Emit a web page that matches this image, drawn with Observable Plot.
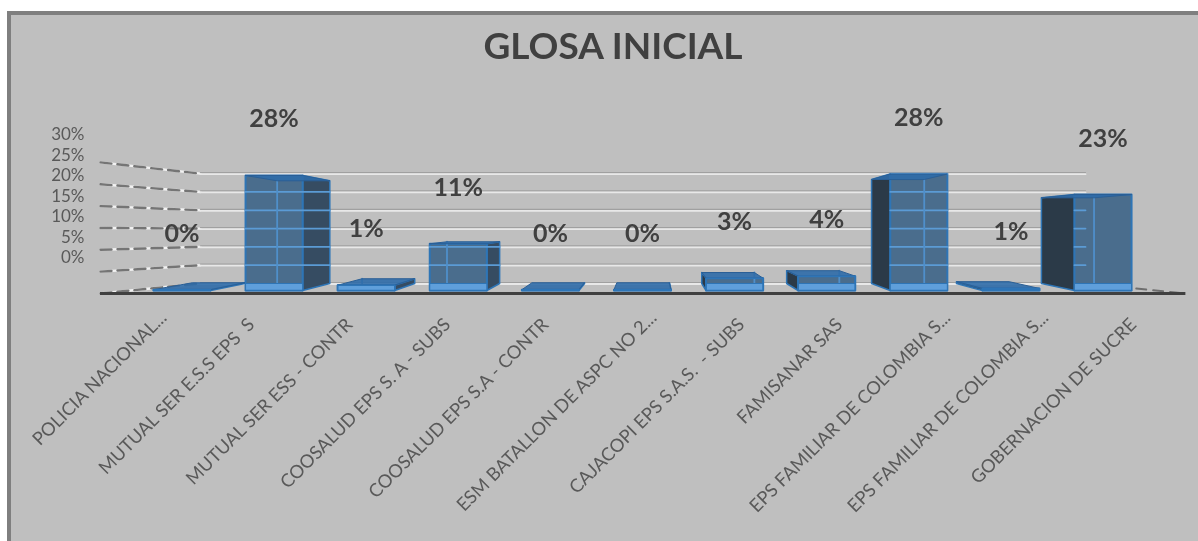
<!DOCTYPE html>
<html>
<head>
<meta charset="utf-8">
<script src="https://cdn.jsdelivr.net/npm/d3@7"></script>
<script src="https://cdn.jsdelivr.net/npm/@observablehq/plot@0.6"></script>
<style>
  html, body { margin: 0; padding: 0; background: #fff; overflow: hidden; }
  #panel { position: absolute; left: 7px; top: 11px; width: 1187px; height: 526px;
           background: #bfbfbf; border-left: 4px solid #7f7f7f; border-top: 4px solid #7f7f7f; }
  #chart { position: absolute; left: 0; top: 0; }
  #chart svg { background: transparent; filter: blur(0.6px); }
</style>
</head>
<body>
<div id="panel"></div>
<div id="chart"></div>
<script>
const title = "GLOSA INICIAL";
const categories = [
  "POLICIA NACIONAL...",
  "MUTUAL SER E.S.S EPS \u00a0S",
  "MUTUAL SER ESS - CONTR",
  "COOSALUD EPS S. A - SUBS",
  "COOSALUD EPS S.A - CONTR",
  "ESM BATALLON DE ASPC NO 2...",
  "CAJACOPI EPS S.A.S. \u00a0- SUBS",
  "FAMISANAR SAS",
  "EPS FAMILIAR DE COLOMBIA S...",
  "EPS FAMILIAR DE COLOMBIA S...",
  "GOBERNACION DE SUCRE"
];
const values = [0.2, 28.05, 1.3, 11.4, 0.2, 0.2, 3, 3.5, 28.4, 0.5, 23.4];
const yTicks = [0, 5, 10, 15, 20, 25, 30];

// Perspective of the fake 3-D box, in data units (category index, percent)
const vanishX = 5.09, depthX = 0.922, depthY = 0.893, floorLift = 1.707;
const half = 0.31;
const backX = x => vanishX + (x - vanishX) * depthX;
const backY = v => v * depthY + floorLift;
const wallY = v => v * 1.066 - 0.73;
const wallFrontX = -0.885, wallBackX = 0.2, wallEndX = 9.81, floorEndX = 10.9;
const floorV = wallY(0);

const bars = values.map((v, i) => ({i, v, l: i - half, r: i + half, rightSide: i < vanishX}));
const poly = (rows) => rows.flatMap(([z, pts]) => pts.concat([pts[0]]).map(([x, y]) => ({z, x, y})));
const side = (b) => {
  const e = b.rightSide ? b.r : b.l;
  return [b.i, [[e, 0], [e, b.v], [backX(e), backY(b.v)], [backX(e), backY(0)]]];
};

// the rotated category labels sit on a plane nearer than the boxes;
// labels cut short with dots end a little higher and further right
const truncated = b => categories[b.i].endsWith("...");
const labelX = b => 5.01 + (b.i - 5) * 1.064 + (truncated(b) ? 0.11 : 0);
const labelY = b => (truncated(b) ? -5.9 : -7.6);

const rightSideRows = poly(bars.filter(b => b.rightSide).map(side));
const leftSideRows = poly(bars.filter(b => !b.rightSide).map(side));
const frontRows = poly(bars.map(b => [b.i, [[b.l, 0], [b.l, b.v], [b.r, b.v], [b.r, 0]]]));
const floorRows = poly(bars.filter(b => b.v > 1).map(b => {
  const h = Math.min(b.v, floorLift);
  return [b.i, [[b.l, 0], [b.r, 0], [b.r, h], [b.l, h]]];
}));
const topRows = poly(bars.map(b =>
  [b.i, [[b.l, b.v], [b.r, b.v], [backX(b.r), backY(b.v)], [backX(b.l), backY(b.v)]]]));
// back edge of each box seen through the translucent front
const backEdgeRows = bars.filter(b => b.v > 1).flatMap(b => {
  const e = b.rightSide ? b.l : b.r;
  return [{z: b.i, x: backX(e), y: backY(0)}, {z: b.i, x: backX(e), y: backY(b.v)}];
});
// gridlines seen through each box
const inBarGrid = bars.flatMap(b => yTicks.filter(t => t > 0 && backY(t) < b.v + 0.2).flatMap(t => {
  const a = b.l;
  const c = b.rightSide ? backX(b.r) : Math.min(b.r, wallEndX);
  return [{z: `${b.i}-${t}`, x: a, y: backY(t)}, {z: `${b.i}-${t}`, x: c, y: backY(t)}];
}));

const backGrid = yTicks.flatMap(t => [{z: t, x: wallBackX, y: backY(t)}, {z: t, x: wallEndX, y: backY(t)}]);
const leftGrid = yTicks.flatMap(t => [{z: t, x: wallFrontX, y: wallY(t)}, {z: t, x: wallBackX, y: backY(t)}]);
const rightFloor = [{x: wallEndX, y: backY(0)}, {x: floorEndX, y: floorV}];

const X = {x: "x", y: "y", z: "z"};
const edge = "#2e75b6";

const plot = Plot.plot({
  width: 1198, height: 541,
  marginLeft: 91, marginBottom: 228, marginTop: 0, marginRight: 0,
  style: {background: "transparent", fontFamily: "Lato, 'Open Sans', sans-serif"},
  x: {domain: [0, 10], range: [181.5, 1102.5], axis: null},
  y: {domain: [0, 30], range: [290, 167], axis: null},
  marks: [
    Plot.text([title], {frameAnchor: "top", dx: -32, dy: 47, lineAnchor: "middle", fontSize: 37, fontWeight: 700, fill: "#404040"}),
    // walls
    Plot.line(leftGrid, {...X, stroke: "#f2f2f2", strokeWidth: 2.4}),
    Plot.line(leftGrid, {...X, stroke: "#757575", strokeWidth: 2.4, strokeDasharray: "11 6"}),
    Plot.line(backGrid, {...X, stroke: "#a0a0a0", strokeWidth: 1.2, dy: -1}),
    Plot.line(backGrid, {...X, stroke: "#e8e8e8", strokeWidth: 1.8, dy: 0.5}),
    Plot.line(rightFloor, {x: "x", y: "y", stroke: "#6e6e6e", strokeWidth: 2, strokeDasharray: "10 7"}),
    Plot.ruleY([floorV], {x1: wallFrontX, x2: floorEndX, stroke: "#404040", strokeWidth: 3}),
    // boxes
    Plot.line(rightSideRows, {...X, fill: "#364c62", stroke: edge, strokeWidth: 1.5}),
    Plot.line(leftSideRows, {...X, fill: "#2b3a48", stroke: edge, strokeWidth: 1.5}),
    Plot.line(frontRows, {...X, fill: "#4a6d8d", stroke: edge, strokeWidth: 2}),
    Plot.line(inBarGrid, {...X, stroke: "#5b9bd5", strokeWidth: 1.8}),
    Plot.line(backEdgeRows, {...X, stroke: "#4f8fca", strokeWidth: 1.8}),
    Plot.line(floorRows, {...X, fill: "#5f9fdb", stroke: edge, strokeWidth: 1}),
    Plot.line(topRows, {...X, fill: "#2f6ca8", fillOpacity: 0.9, stroke: "#2a5f96", strokeWidth: 1}),
    Plot.line(frontRows.filter(d => d.y < 1.4 || values[d.z] < 5), {...X, stroke: edge, strokeWidth: 1.5}),
    // labels
    Plot.text(bars, {x: "i", y: "v", text: b => `${Math.round(b.v)}%`, dy: -56, fontSize: 25, fontWeight: 700, fill: "#404040"}),
    Plot.axisY({ticks: yTicks, tickSize: 0, tickPadding: 7, dy: -32.5, fontSize: 17, color: "#595959", tickFormat: d => `${d}%`, label: null}),
    Plot.text(bars, {
      x: labelX,
      y: labelY,
      text: b => categories[b.i],
      rotate: -45, textAnchor: "end", lineAnchor: "middle",
      fontSize: 18.3, fill: "#595959"
    }),
  ]
});
document.getElementById("chart").append(plot);
</script>
</body>
</html>
